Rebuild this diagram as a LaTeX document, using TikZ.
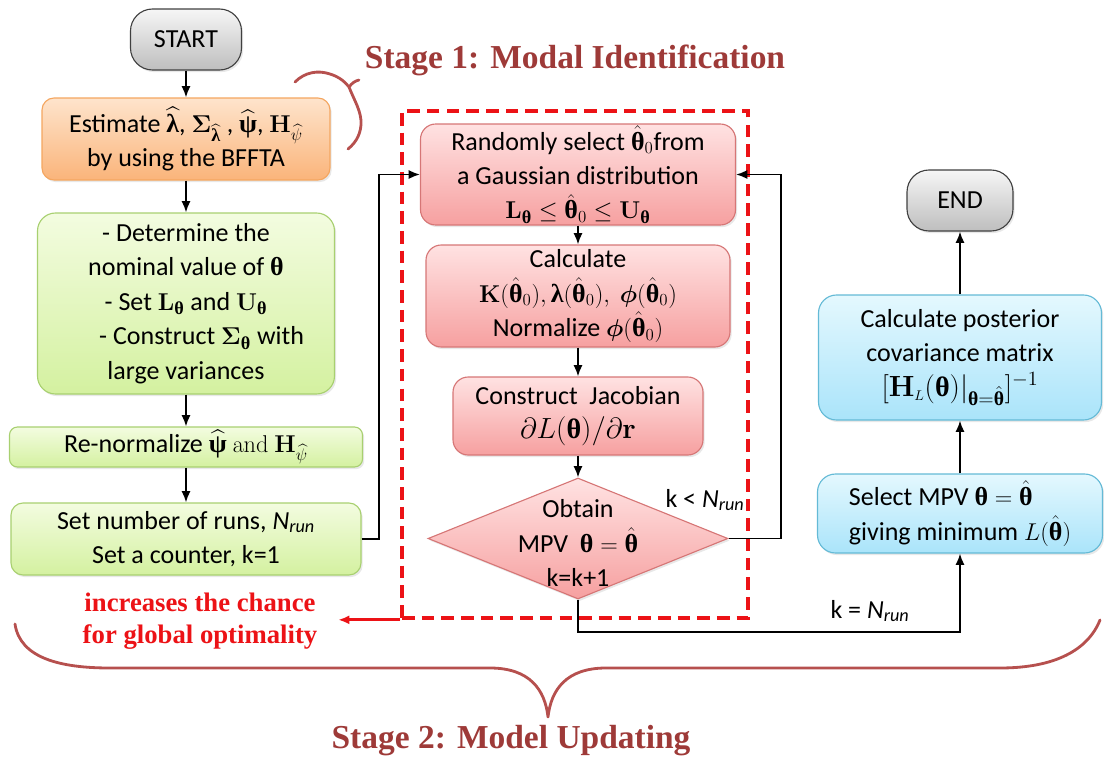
\documentclass[tikz,border=0pt]{standalone}
\usepackage{amsmath,bm}
\usepackage[no-math]{fontspec}
\setmainfont{Carlito}
\newfontfamily\titlefont{Liberation Serif}
\usetikzlibrary{arrows.meta,shapes.geometric,shadows}

% upright bold Greek letters for vectors
\newcommand\bgr[1]{\text{\titlefont\bfseries #1}}
\newcommand\bth{\bgr{θ}}
\newcommand\bla{\bgr{λ}}
\newcommand\bps{\bgr{ψ}}

\definecolor{orangetop}{RGB}{254,228,204}
\definecolor{orangebot}{RGB}{250,180,122}
\definecolor{orangeline}{RGB}{244,166,96}
\definecolor{greentop}{RGB}{243,252,224}
\definecolor{greenbot}{RGB}{212,241,160}
\definecolor{greenline}{RGB}{168,208,112}
\definecolor{redtop}{RGB}{255,226,226}
\definecolor{redbot}{RGB}{246,160,160}
\definecolor{redline}{RGB}{214,118,118}
\definecolor{bluetop}{RGB}{228,248,254}
\definecolor{bluebot}{RGB}{170,228,250}
\definecolor{blueline}{RGB}{100,186,214}
\definecolor{graytop}{RGB}{246,246,246}
\definecolor{graybot}{RGB}{190,190,190}
\definecolor{stagecol}{RGB}{158,58,56}
\definecolor{bracecol}{RGB}{182,80,78}
\definecolor{notecol}{RGB}{236,18,22}

\begin{document}
\begin{tikzpicture}[x=0.025cm,y=-0.025cm,
  font=\fontsize{18.5}{24.5}\selectfont,
  sz/.style 2 args={minimum width=#1*0.025cm, minimum height=#2*0.025cm},
  base/.style={draw, align=center, inner sep=0pt, line width=0.8pt,
    drop shadow={opacity=0.18, shadow xshift=1.2pt, shadow yshift=-1.5pt}},
  termbox/.style={base, rounded corners=0.55cm, draw=black!75,
    top color=graytop, bottom color=graybot},
  orangebox/.style={base, rounded corners=0.3cm, draw=orangeline,
    top color=orangetop, bottom color=orangebot},
  greenbox/.style={base, rounded corners=0.45cm, draw=greenline,
    top color=greentop, bottom color=greenbot},
  greenbar/.style={base, rounded corners=0.2cm, draw=greenline,
    top color=greentop, bottom color=greenbot},
  redbox/.style={base, rounded corners=0.38cm, draw=redline,
    top color=redtop, bottom color=redbot},
  bluebox/.style={base, rounded corners=0.45cm, draw=blueline,
    top color=bluetop, bottom color=bluebot},
  decision/.style={diamond, draw=redline, line width=0.8pt, inner sep=0pt,
    top color=redtop, bottom color=redbot,
    drop shadow={opacity=0.18, shadow xshift=1.2pt, shadow yshift=-1.5pt}},
  arr/.style={-{Latex[length=8pt,width=6.5pt]}, line width=1.4pt},
  notearr/.style={-{Latex[length=8pt,width=6.5pt]}, line width=2pt, draw=notecol},
  stage/.style={font=\titlefont\bfseries\fontsize{23.8}{28}\selectfont, text=stagecol},
  brace/.style={draw=bracecol, line width=2pt, line cap=round, line join=round}
]
\useasboundingbox (0,0) rectangle (1104,763);

% ---------- left column ----------
\node[termbox, sz={111}{61}] (start) at (186,39.5) {START};
\node[orangebox, sz={288}{82}] (estimate) at (186,139)
  {Estimate $\widehat{\bla}$, $\mathbf{\Sigma}_{\widehat{\bla}}$ , $\widehat{\bps}$, $\mathbf{H}_{\widehat{\psi}}$\\ by using the BFFTA};
\node[greenbox, sz={297}{181}] (prior) at (186,303.5)
  {- Determine the\\ nominal value of $\bth$\\ - Set $\mathbf{L}_{\bth}$ and $\mathbf{U}_{\bth}$\\
   \hspace{1.2em}- Construct $\mathbf{\Sigma}_{\bth}$ with\\ large variances};
\node[greenbar, sz={353}{40}] (renorm) at (186,447)
  {Re-normalize $\widehat{\bps}$ $\mathrm{and}$ $\mathbf{H}_{\widehat{\psi}}$};
\node[greenbar, rounded corners=0.3cm, sz={350}{72}] (runs) at (186,539)
  {Set number of runs, \textit{N\textsubscript{run}}\\ Set a counter, k=1};

\draw[arr] (start) -- (estimate);
\draw[arr] (estimate) -- (prior);
\draw[arr] (prior) -- (renorm);
\draw[arr] (renorm) -- (runs);

% ---------- stage 1 loop ----------
\node[draw=notecol, dash pattern=on 9pt off 5pt, line width=2.6pt,
      sz={346}{507}, inner sep=0pt] (stage1) at (575,364.5) {};

\node[redbox, sz={315}{101}] (select0) at (578,174.5)
  {Randomly select $\hat{\bth}_0$from\\ a Gaussian distribution\\
   $\mathbf{L}_{\bth} \le \hat{\bth}_0 \le \mathbf{U}_{\bth}$};
\node[redbox, sz={304}{102}] (calc) at (578,296)
  {Calculate\\ $\mathbf{K}(\hat{\bth}_0), \bla(\hat{\bth}_0),\ \bm\phi(\hat{\bth}_0)$\\
   Normalize $\bm\phi(\hat{\bth}_0)$};
\node[redbox, sz={250}{78}] (jacob) at (578,416)
  {Construct~~Jacobian\\ {\fontsize{20}{26}\selectfont$\partial L(\bth)/\partial \mathbf{r}$}};
\node[decision, sz={300}{121}] (mpv) at (578,538.5) {};
\node[align=center, font=\fontsize{18.5}{24.5}\selectfont] (mpvtext) at (578,543)
  {Obtain\\ MPV\ \ $\bth = \hat{\bth}$\\ k=k+1};

\draw[arr] (select0) -- (calc);
\draw[arr] (calc) -- (jacob);
\draw[arr] (jacob) -- (mpv);

\draw[arr] (runs.east) -- ++(17,0) |- (select0.west);
\draw[arr] (mpv.east) -- ++(52,0) |- (select0.east);
\node (lessk) at (705,500) {k < \textit{N\textsubscript{run}}};

% ---------- right column ----------
\node[bluebox, sz={285}{79}, align=left, inner xsep=15pt] (best) at (960,513.5)
  {Select MPV $\bth=\hat{\bth}$\\ giving minimum $L(\hat{\bth})$};
\node[bluebox, sz={283}{125}] (post) at (960,357.5)
  {Calculate posterior\\ covariance matrix\\
   {\fontsize{20}{24}\selectfont$[\mathbf{H}_{\scriptscriptstyle L}(\bth)|_{\bth=\hat{\bth}}]^{-1}$}};
\node[termbox, sz={106}{61}] (finish) at (960,200.5) {END};

\draw[arr] (mpv.south) -- ++(0,32) -| (best.south);
\node (eqk) at (870,611) {k = \textit{N\textsubscript{run}}};
\draw[arr] (best) -- (post);
\draw[arr] (post) -- (finish);

% ---------- annotations ----------
\node[align=center, text=notecol,
      font=\titlefont\bfseries\fontsize{19}{23}\selectfont] (note) at (200,621)
  {increases the chance\\ for global optimality};
\draw[notearr] (stage1.south west) -- ++(-62,0);

\node[stage] (title1) at (575,60) {Stage 1: Modal Identification};
\node[stage] (title2) at (511,741) {Stage 2: Model Updating};

% small brace next to the first stage title
\path[brace] (295,82) .. controls (305,72) and (318,70) .. (330,74)
  .. controls (340,77) and (346,83) .. (349,87)
  .. controls (354,100) and (362,112) .. (361,125)
  .. controls (360,137) and (354,144) .. (348,149);
\path[brace] (349,87) .. controls (352,83) and (355,81) .. (359,80);

% large brace spanning the whole flow
\path[brace] (15,624) .. controls (20,658) and (60,668) .. (110,668)
  -- (490,668) .. controls (530,668) and (545,690) .. (548,717)
  .. controls (551,690) and (566,668) .. (606,668)
  -- (1000,668) .. controls (1055,668) and (1088,650) .. (1100,620);
\end{tikzpicture}
\end{document}
